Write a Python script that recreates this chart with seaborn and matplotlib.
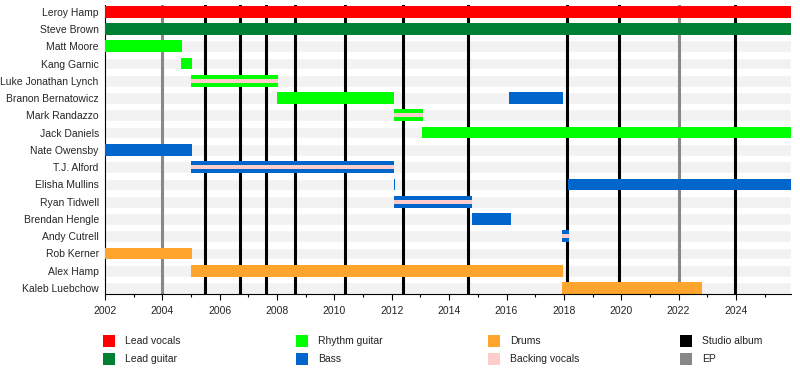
import matplotlib
matplotlib.use("Agg")
import matplotlib.pyplot as plt
import seaborn as sns
import pandas as pd
from matplotlib.patches import Rectangle

# ---------------- data ----------------
members = ["Leroy Hamp", "Steve Brown", "Matt Moore", "Kang Garnic",
           "Luke Jonathan Lynch", "Branon Bernatowicz", "Mark Randazzo",
           "Jack Daniels", "Nate Owensby", "T.J. Alford", "Elisha Mullins",
           "Ryan Tidwell", "Brendan Hengle", "Andy Cutrell", "Rob Kerner",
           "Alex Hamp", "Kaleb Luebchow"]

timeline_start = 2002.0
timeline_end = 2025.92

seg_member = ["Leroy Hamp", "Steve Brown", "Matt Moore", "Kang Garnic",
              "Luke Jonathan Lynch", "Branon Bernatowicz", "Branon Bernatowicz",
              "Mark Randazzo", "Jack Daniels", "Nate Owensby", "T.J. Alford",
              "Elisha Mullins", "Elisha Mullins", "Ryan Tidwell",
              "Brendan Hengle", "Andy Cutrell", "Rob Kerner", "Alex Hamp",
              "Kaleb Luebchow"]
seg_role = ["Lead vocals", "Lead guitar", "Rhythm guitar", "Rhythm guitar",
            "Rhythm guitar", "Rhythm guitar", "Bass",
            "Rhythm guitar", "Rhythm guitar", "Bass", "Bass",
            "Bass", "Bass", "Bass",
            "Bass", "Bass", "Drums", "Drums",
            "Drums"]
seg_start = [2002.0, 2002.0, 2002.0, 2004.65,
             2005.0, 2008.0, 2016.1,
             2012.06, 2013.07, 2002.0, 2005.0,
             2012.06, 2018.13, 2012.06,
             2014.79, 2017.93, 2002.0, 2005.0,
             2017.93]
seg_end = [2025.92, 2025.92, 2004.69, 2005.04,
           2008.04, 2012.09, 2017.96,
           2013.1, 2025.92, 2005.04, 2012.09,
           2012.1, 2025.92, 2014.8,
           2016.14, 2018.17, 2005.04, 2017.96,
           2022.8]

backing_member = ["Luke Jonathan Lynch", "Mark Randazzo", "T.J. Alford",
                  "Ryan Tidwell", "Andy Cutrell"]
backing_start = [2005.0, 2012.06, 2005.0, 2012.06, 2017.93]
backing_end = [2008.04, 2013.1, 2012.09, 2014.8, 2018.17]

studio_albums = [2005.5, 2006.7, 2007.6, 2008.62, 2010.37, 2012.38,
                 2014.65, 2018.12, 2019.92, 2023.95]
eps = [2004.0, 2022.0]

legend_labels = ["Lead vocals", "Lead guitar", "Rhythm guitar", "Bass",
                 "Drums", "Backing vocals", "Studio album", "EP"]

# ---------------- style ----------------
colors = {
    "Lead vocals": "#ff0000",
    "Lead guitar": "#008033",
    "Rhythm guitar": "#00ff00",
    "Bass": "#0066cc",
    "Drums": "#ffa42c",
    "Backing vocals": "#ffcccc",
    "Studio album": "#000000",
    "EP": "#888888",
}

sns.set_style("white")
plt.rcParams["font.family"] = ["Liberation Sans", "DejaVu Sans"]

fig = plt.figure(figsize=(8, 3.73), dpi=100)
ax = fig.add_axes([105 / 800, 1 - 294 / 373, (791 - 105) / 800, (294 - 5) / 373])

bar_h = 0.68

# background stripes via seaborn (bars from 0 clipped by xlim)
bg = pd.DataFrame({"member": members, "end": [timeline_end] * len(members)})
sns.barplot(data=bg, x="end", y="member", orient="h", color="#f2f2f2",
            width=bar_h, errorbar=None, ax=ax, zorder=1, saturation=1)

ypos = {m: i for i, m in enumerate(members)}

for x in eps:
    ax.axvline(x, color=colors["EP"], lw=2.2, zorder=2)
for x in studio_albums:
    ax.axvline(x, color=colors["Studio album"], lw=2.2, zorder=2)

for m, r, s, e in zip(seg_member, seg_role, seg_start, seg_end):
    ax.barh(ypos[m], e - s, left=s, height=bar_h, color=colors[r],
            edgecolor="none", zorder=3)

for m, s, e in zip(backing_member, backing_start, backing_end):
    ax.barh(ypos[m], e - s, left=s, height=bar_h * 0.33,
            color=colors["Backing vocals"], edgecolor="none", zorder=4)

ax.set_xlim(timeline_start, timeline_end)
ax.set_ylim((294 - 11.8) / 17.26, (5 - 11.8) / 17.26)

ax.set_xticks(list(range(2002, 2026, 2)))
ax.set_xticks(list(range(2003, 2026, 2)), minor=True)
ax.set_xticklabels([str(y) for y in range(2002, 2026, 2)], fontsize=7.5)
ax.tick_params(axis="x", which="major", direction="out", length=4, width=0.8,
               color="black", pad=5, bottom=True)
ax.tick_params(axis="x", which="minor", direction="out", length=2.5, width=0.8,
               color="black", bottom=True)
ax.tick_params(axis="y", length=0, pad=4.5, labelsize=7.5)
ax.set_xlabel("")
ax.set_ylabel("")

for side in ["top", "right"]:
    ax.spines[side].set_visible(False)
ax.spines["bottom"].set_color("black")
ax.spines["bottom"].set_linewidth(0.8)
ax.spines["left"].set_color("black")
ax.spines["left"].set_linewidth(0.8)
ax.spines["bottom"].set_zorder(5)

# ---------------- legend (manual, 4 columns x 2 rows) ----------------
col_x = [103, 296, 488, 680]
row_y = [341, 359]
for i, lab in enumerate(legend_labels):
    c, r = divmod(i, 2)
    x0 = col_x[c]
    yc = row_y[r]
    fig.patches.append(Rectangle((x0 / 800, 1 - (yc + 6) / 373), 12 / 800, 12 / 373,
                                 transform=fig.transFigure, facecolor=colors[lab],
                                 edgecolor="none"))
    fig.text((x0 + 22) / 800, 1 - yc / 373, lab, fontsize=7.5, va="center",
             ha="left", color="#222222")

fig.savefig("out.png", dpi=100)
